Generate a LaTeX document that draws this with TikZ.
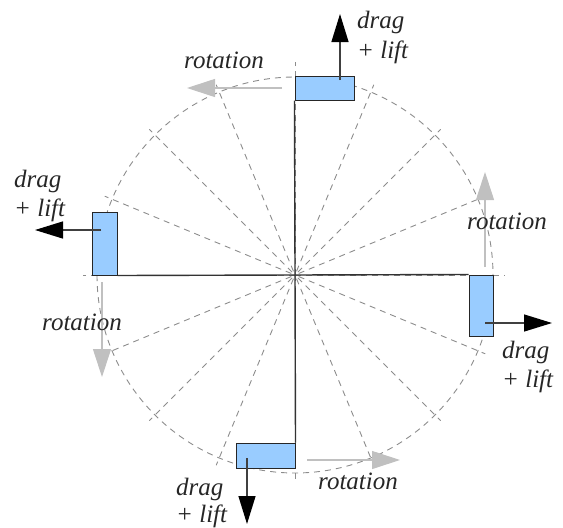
\documentclass[tikz,border=0pt]{standalone}
\usepackage{fontspec}
\setmainfont{Liberation Serif}
\usetikzlibrary{arrows.meta}
\definecolor{boxblue}{HTML}{99CCFF}
\definecolor{guide}{HTML}{8C8C8C}
\definecolor{rotgray}{HTML}{C0C0C0}
\begin{document}
\begin{tikzpicture}[x=1pt,y=-1pt,
  guideline/.style={draw=guide, line width=0.9pt, dash pattern=on 6pt off 5pt},
  axisline/.style={draw=black!80, line width=1.4pt},
  blade/.style={rectangle, draw=black!85, fill=boxblue, line width=1pt, inner sep=0pt},
  dragarrow/.style={draw=black!75, line width=1.3pt, -{Triangle[length=28pt,width=17pt,color=black]}},
  rotarrow/.style={draw=rotgray, line width=1.1pt, -{Triangle[length=28pt,width=18pt]}},
  lbl/.style={font=\fontsize{25}{30}\selectfont\itshape, text=black!85, inner sep=0pt, anchor=base west}]
\useasboundingbox (0,0) rectangle (563,528);
\coordinate (c) at (295,275);
% guides
\draw[guideline] (c) circle (198);
\foreach \a in {22.5,45,67.5,112.5,135,157.5,202.5,225,247.5,292.5,315,337.5}
  \draw[guideline] (c) ++(\a:4) -- ++(\a:202);
\draw[guideline] (c) -- ++(210,0);
\draw[guideline] (c) -- ++(-212,0);
\draw[guideline] (c) -- ++(0,-213);
\draw[guideline] (c) -- ++(0,205);
% blades
\node[blade, minimum width=59pt, minimum height=24pt] (bT) at (324.5,88) {};
\node[blade, minimum width=25pt, minimum height=63pt] (bL) at (104.5,243.5) {};
\node[blade, minimum width=24pt, minimum height=61pt] (bR) at (481,305.5) {};
\node[blade, minimum width=59pt, minimum height=25pt] (bB) at (265.5,455.5) {};
% arms
\draw[axisline] (bL.south east) -- (bR.north west);
\draw[axisline] (bT.south west) -- (bB.north east);
% rotation arrows
\coordinate (rT1) at (282,88);  \coordinate (rT2) at (187,88);
\coordinate (rL1) at (102,282); \coordinate (rL2) at (102,377);
\coordinate (rR1) at (485,267); \coordinate (rR2) at (485,172);
\coordinate (rB1) at (307,460); \coordinate (rB2) at (400,460);
\draw[rotarrow] (rT1) -- (rT2);
\draw[rotarrow] (rL1) -- (rL2);
\draw[rotarrow] (rR1) -- (rR2);
\draw[rotarrow] (rB1) -- (rB2);
% drag arrows
\coordinate (dT1) at (340,80);  \coordinate (dT2) at (340,14);
\coordinate (dL1) at (101,230); \coordinate (dL2) at (35,230);
\coordinate (dR1) at (485,323); \coordinate (dR2) at (552,323);
\coordinate (dB1) at (247,458); \coordinate (dB2) at (247,524);
\draw[dragarrow] (dT1) -- (dT2);
\draw[dragarrow] (dL1) -- (dL2);
\draw[dragarrow] (dR1) -- (dR2);
\draw[dragarrow] (dB1) -- (dB2);
% labels
\node[lbl] (tT1) at (357,28) {drag};
\node[lbl] (tT2) at (357,58) {+ lift};
\node[lbl] (tL1) at (14,187) {drag};
\node[lbl] (tL2) at (14,216) {+ lift};
\node[lbl] (tR1) at (502,358) {drag};
\node[lbl] (tR2) at (502,387) {+ lift};
\node[lbl] (tB1) at (176,495) {drag};
\node[lbl] (tB2) at (176,522) {+ lift};
\node[lbl] (rotT) at (184,68) {rotation};
\node[lbl] (rotL) at (42,330) {rotation};
\node[lbl] (rotR) at (467,229) {rotation};
\node[lbl] (rotB) at (318,489) {rotation};
\end{tikzpicture}
\end{document}
